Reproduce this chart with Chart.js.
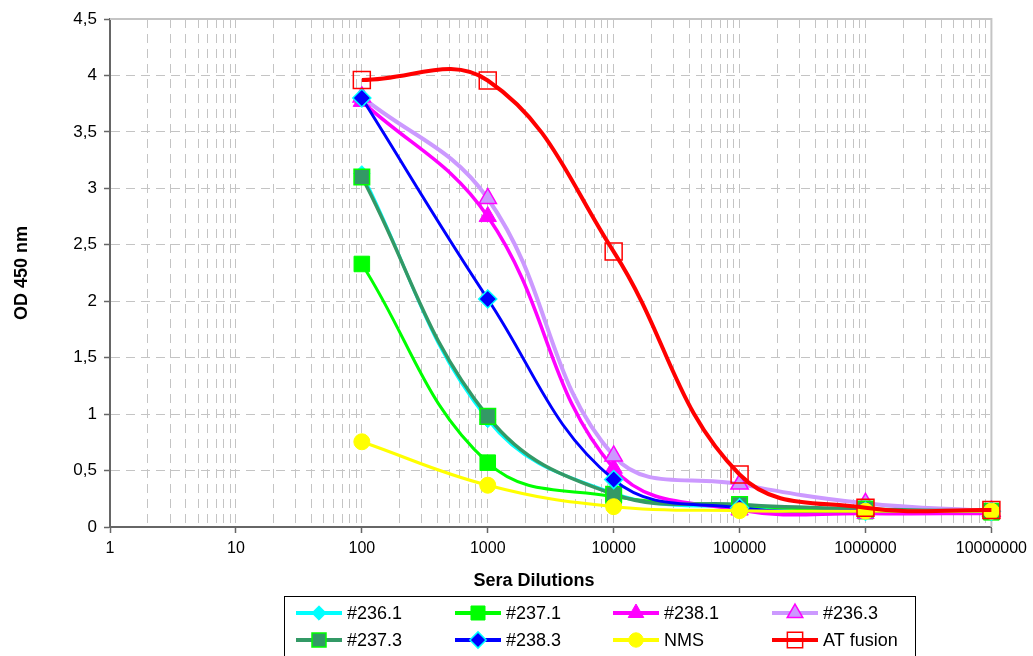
<!DOCTYPE html>
<html>
<head>
<meta charset="utf-8">
<script src="https://cdn.jsdelivr.net/npm/chart.js@4.4.1/dist/chart.umd.min.js"></script>
<style>
html,body{margin:0;padding:0;background:#fff;}
#wrap{width:1033px;height:656px;position:relative;overflow:hidden;}
</style>
</head>
<body>
<div id="wrap"><canvas id="c" width="1033" height="656"></canvas></div>
<script>
// ---- data ----
const dilutions = [100, 1000, 10000, 100000, 1000000, 10000000];
const s236_1 = [3.13, 0.95, 0.30, 0.17, 0.13, 0.13];
const s237_1 = [2.33, 0.57, 0.27, 0.19, 0.14, 0.13];
const s238_1 = [3.77, 2.75, 0.52, 0.15, 0.12, 0.12];
const s236_3 = [3.81, 2.91, 0.63, 0.38, 0.21, 0.14];
const s237_3 = [3.10, 0.98, 0.29, 0.20, 0.16, 0.14];
const s238_3 = [3.80, 2.02, 0.42, 0.17, 0.14, 0.14];
const sNMS   = [0.755, 0.37, 0.18, 0.145, 0.14, 0.14];
const sAT    = [3.96, 3.955, 2.44, 0.465, 0.17, 0.15];
const seriesLabels = ['#236.1', '#237.1', '#238.1', '#236.3', '#237.3', '#238.3', 'NMS', 'AT fusion'];
const xTickDecades = [1, 10, 100, 1000, 10000, 100000, 1000000, 10000000];
const yTicks = [0, 0.5, 1, 1.5, 2, 2.5, 3, 3.5, 4, 4.5];
const xTitle = 'Sera Dilutions';
const yTitle = 'OD 450 nm';

const FONT = "'Liberation Sans', Arial, Helvetica, sans-serif";

const styles = [
  {color:'#00FFFF', shape:'rectRot',  r:8,  fill:'#00FFFF', stroke:'#00FFFF', bw:1,   lw:3},
  {color:'#00FF00', shape:'rect',     r:11, fill:'#00FF00', stroke:'#00FF00', bw:1,   lw:3},
  {color:'#FF00FF', shape:'triangle', r:10, fill:'#FF00FF', stroke:'#FF00FF', bw:1,   lw:3.5},
  {color:'#CC99FF', shape:'triangle', r:10, fill:'#CC99FF', stroke:'#FF00FF', bw:1.5, lw:4},
  {color:'#339966', shape:'rect',     r:11, fill:'#339966', stroke:'#00FF00', bw:1.5, lw:3.5},
  {color:'#0000FF', shape:'rectRot',  r:9,  fill:'#0000FF', stroke:'#00FFFF', bw:1.5, lw:3},
  {color:'#FFFF00', shape:'circle',   r:8,  fill:'#FFFF00', stroke:'#FFFF00', bw:1,   lw:3},
  {color:'#FF0000', shape:'rect',     r:12, fill:'rgba(0,0,0,0)', stroke:'#FF0000', bw:1.5, lw:4}
];
const seriesValues = [s236_1, s237_1, s238_1, s236_3, s237_3, s238_3, sNMS, sAT];

const datasets = seriesValues.map((vals, i) => {
  const s = styles[i];
  return {
    label: seriesLabels[i],
    data: dilutions.map((x, j) => ({x: x, y: vals[j]})),
    borderColor: s.color,
    borderWidth: s.lw,
    backgroundColor: s.fill,
    pointStyle: s.shape,
    pointRadius: s.r,
    pointHoverRadius: s.r,
    pointBackgroundColor: s.fill,
    pointBorderColor: s.stroke,
    pointBorderWidth: s.bw,
    tension: 0.4,
    fill: false,
    clip: false,
    order: seriesValues.length - i
  };
});

function isPow10(v) {
  const l = Math.log10(v);
  return Math.abs(l - Math.round(l)) < 1e-9;
}

function drawMarker(ctx, shape, x, y, r, fill, stroke, bw) {
  ctx.save();
  ctx.beginPath();
  if (shape === 'circle') {
    ctx.arc(x, y, r, 0, Math.PI * 2);
  } else if (shape === 'rect') {
    const h = r * Math.SQRT1_2;
    ctx.rect(x - h, y - h, 2 * h, 2 * h);
  } else if (shape === 'rectRot') {
    ctx.moveTo(x, y - r); ctx.lineTo(x + r, y); ctx.lineTo(x, y + r); ctx.lineTo(x - r, y);
    ctx.closePath();
  } else if (shape === 'triangle') {
    for (let k = 0; k < 3; k++) {
      const a = -Math.PI / 2 + k * 2 * Math.PI / 3;
      const px = x + Math.cos(a) * r, py = y + Math.sin(a) * r;
      if (k === 0) ctx.moveTo(px, py); else ctx.lineTo(px, py);
    }
    ctx.closePath();
  }
  ctx.fillStyle = fill;
  ctx.fill();
  ctx.lineWidth = bw;
  ctx.strokeStyle = stroke;
  ctx.stroke();
  ctx.restore();
}

const framePlugin = {
  id: 'frame',
  beforeDatasetsDraw(chart) {
    const {ctx, chartArea: a} = chart;
    ctx.save();
    ctx.strokeStyle = '#c4c4c4';
    ctx.lineWidth = 2;
    ctx.beginPath();
    ctx.moveTo(a.left, a.top);
    ctx.lineTo(a.right, a.top);
    ctx.lineTo(a.right, a.bottom);
    ctx.stroke();
    ctx.restore();
  },
  afterDraw(chart) {
    const {ctx} = chart;
    // x axis title
    ctx.save();
    ctx.fillStyle = '#000';
    ctx.font = 'bold 18px ' + FONT;
    ctx.textAlign = 'center';
    ctx.textBaseline = 'middle';
    ctx.fillText(xTitle, 534, 581);
    ctx.restore();

    // legend
    const boxL = 284, boxT = 596, boxW = 631, boxH = 64;
    ctx.save();
    ctx.strokeStyle = '#000';
    ctx.lineWidth = 1;
    ctx.strokeRect(boxL + 0.5, boxT + 0.5, boxW, boxH);
    ctx.font = '18px ' + FONT;
    ctx.textAlign = 'left';
    ctx.textBaseline = 'middle';
    const colX = [296, 455, 613, 772];
    const rowY = [613, 640];
    const ds = chart.data.datasets;
    ds.forEach((d, i) => {
      const s = styles[i];
      const cx = colX[i % 4], cy = rowY[Math.floor(i / 4)];
      ctx.save();
      ctx.strokeStyle = s.color;
      ctx.lineWidth = 4;
      ctx.beginPath();
      ctx.moveTo(cx, cy);
      ctx.lineTo(cx + 46, cy);
      ctx.stroke();
      ctx.restore();
      drawMarker(ctx, s.shape, cx + 23, cy, s.r * 0.9, s.fill, s.stroke, s.bw);
      ctx.fillStyle = '#000';
      ctx.fillText(d.label, cx + 51, cy + 1);
    });
    ctx.restore();
  }
};

Chart.defaults.font.family = FONT;

new Chart(document.getElementById('c'), {
  type: 'line',
  data: { datasets: datasets },
  plugins: [framePlugin],
  options: {
    responsive: false,
    animation: false,
    events: [],
    layout: { padding: { left: 0, top: 19, right: 37, bottom: 66 } },
    plugins: { legend: { display: false }, tooltip: { enabled: false }, title: { display: false } },
    scales: {
      x: {
        type: 'logarithmic',
        position: 'bottom',
        min: 1,
        max: 10000000,
        afterBuildTicks(scale) {
          const t = [];
          xTickDecades.forEach((d, i) => {
            if (i === xTickDecades.length - 1) { t.push({value: d, major: true}); return; }
            for (let m = 1; m <= 9; m++) t.push({value: d * m, major: m === 1});
          });
          scale.ticks = t;
        },
        afterFit(scale) { scale.height = 63; },
        ticks: {
          autoSkip: false,
          maxRotation: 0,
          minRotation: 0,
          padding: 6,
          color: '#000',
          font: { size: 16 },
          callback(v) { return isPow10(v) ? String(Math.round(v)) : ''; }
        },
        grid: {
          color: '#c4c4c4',
          lineWidth: 1,
          tickLength: 6,
          tickWidth: 1.5,
          tickColor: (c) => (c.tick && isPow10(c.tick.value)) ? '#666666' : 'rgba(0,0,0,0)'
        },
        border: { display: true, color: '#666666', width: 2, dash: [9, 6] }
      },
      y: {
        type: 'linear',
        min: 0,
        max: 4.5,
        afterBuildTicks(scale) { scale.ticks = yTicks.map(v => ({value: v})); },
        afterFit(scale) { scale.width = 110; },
        ticks: {
          padding: 7,
          color: '#000',
          font: { size: 17 },
          callback(v) { return String(v).replace('.', ','); }
        },
        grid: {
          color: '#c4c4c4',
          lineWidth: 1,
          tickLength: 6,
          tickWidth: 1.5,
          tickColor: '#666666'
        },
        border: { display: true, color: '#666666', width: 2, dash: [9, 6] },
        title: {
          display: true,
          text: yTitle,
          color: '#000',
          font: { size: 18, weight: 'bold' },
          padding: { top: 11, bottom: 0 }
        }
      }
    }
  }
});
</script>
</body>
</html>
